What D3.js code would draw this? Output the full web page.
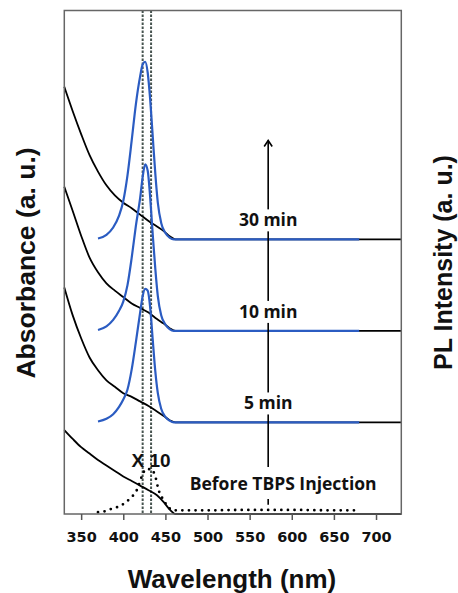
<!DOCTYPE html>
<html>
<head>
<meta charset="utf-8">
<script src="https://cdn.jsdelivr.net/npm/d3@7"></script>
<style>
  body { margin: 0; background: #fff; }
  svg { display: block; }
</style>
</head>
<body>
<div id="chart"></div>
<script>
// wavelength grids (nm)
var absWl = [330, 340, 350, 360, 370, 380, 390, 400, 410, 420, 430, 440, 448, 455, 462, 730];
var plWl = [370, 380, 388, 395, 400, 405, 410, 415, 420, 423, 426, 429, 432, 435, 438, 441, 445, 450, 455, 460, 680];

// absorbance curves (a.u., relative to own baseline)
var abs30 = [1.667, 1.40, 1.15, 0.92, 0.74, 0.59, 0.48, 0.40, 0.34, 0.27, 0.20, 0.14, 0.09, 0.035, 0, 0];
var abs10 = [1.575, 1.31, 1.04, 0.80, 0.64, 0.52, 0.44, 0.37, 0.30, 0.25, 0.20, 0.13, 0.08, 0.03, 0, 0];
var abs5 = [1.475, 1.17, 0.92, 0.71, 0.57, 0.46, 0.39, 0.32, 0.28, 0.23, 0.18, 0.12, 0.07, 0.025, 0, 0];
var absBefore = [0.917, 0.82, 0.73, 0.66, 0.59, 0.53, 0.47, 0.41, 0.36, 0.31, 0.26, 0.205, 0.13, 0.05, 0, 0];

// PL curves
var pl30 = [0.01, 0.05, 0.13, 0.26, 0.42, 0.70, 1.08, 1.48, 1.78, 1.91, 1.94, 1.82, 1.52, 1.12, 0.72, 0.40, 0.18, 0.07, 0.02, 0, 0];
var pl10 = [0.01, 0.05, 0.12, 0.22, 0.32, 0.50, 0.80, 1.15, 1.45, 1.68, 1.82, 1.75, 1.45, 1.05, 0.68, 0.38, 0.17, 0.07, 0.02, 0, 0];
var pl5 = [0.01, 0.04, 0.09, 0.17, 0.25, 0.36, 0.58, 0.88, 1.20, 1.38, 1.46, 1.44, 1.25, 0.90, 0.56, 0.32, 0.15, 0.06, 0.02, 0, 0];

// before injection PL (x10, dotted)
var plBeforeWl = [370, 378, 386, 394, 402, 408, 416, 422, 427, 433, 438, 442, 448, 454, 460, 500, 550, 600, 650, 676];
var plBefore = [0.0, 0.01, 0.036, 0.06, 0.10, 0.15, 0.24, 0.39, 0.47, 0.47, 0.39, 0.24, 0.13, 0.05, 0.02, 0.02, 0.025, 0.025, 0.02, 0.02];

// vertical offset of each trace
var offsets = [3, 2, 1, 0];
var labels = ["30 min", "10 min", "5 min"];
var peakLines = [423, 433];
var xTicks = [350, 400, 450, 500, 550, 600, 650, 700];

var W = 458, H = 593;
var margin = {top: 10.5, right: 56.7, bottom: 79, left: 64.3};

var svg = d3.select("#chart").append("svg")
    .attr("width", W)
    .attr("height", H);

var x = d3.scaleLinear()
    .domain([330, 730])
    .range([margin.left, W - margin.right]);

var y = d3.scaleLinear()
    .domain([0, 5.5])
    .range([H - margin.bottom, margin.top]);

var line = function(wl, off) {
  return d3.line()
    .x(function(d, i) { return x(wl[i]); })
    .y(function(d) { return y(d + off); })
    .curve(d3.curveMonotoneX);
};

// dashed peak markers
svg.selectAll(".peak")
    .data(peakLines)
  .enter().append("line")
    .attr("x1", function(d) { return x(d); })
    .attr("x2", function(d) { return x(d); })
    .attr("y1", y(5.5))
    .attr("y2", y(0))
    .attr("stroke", "#46534f")
    .attr("stroke-width", 2)
    .attr("stroke-dasharray", "2.5,1.5");

// absorbance (black)
var absSets = [abs30, abs10, abs5, absBefore];
absSets.forEach(function(a, k) {
  svg.append("path")
      .datum(a)
      .attr("fill", "none")
      .attr("stroke", "#000")
      .attr("stroke-width", 1.8)
      .attr("d", line(absWl, offsets[k]));
});

// PL (blue)
var plSets = [pl30, pl10, pl5];
plSets.forEach(function(p, k) {
  svg.append("path")
      .datum(p)
      .attr("fill", "none")
      .attr("stroke", "#2b5cc2")
      .attr("stroke-width", 2.2)
      .attr("d", line(plWl, offsets[k]));
});

// before injection PL, dotted
svg.append("path")
    .datum(plBefore)
    .attr("fill", "none")
    .attr("stroke", "#000")
    .attr("stroke-width", 2.8)
    .attr("stroke-linecap", "round")
    .attr("stroke-dasharray", "0,6.6")
    .attr("d", line(plBeforeWl, 0.02));

// arrow
var arrowX = x(572);
svg.append("line")
    .attr("x1", arrowX).attr("x2", arrowX)
    .attr("y1", y(0.1)).attr("y2", y(4.08))
    .attr("stroke", "#000")
    .attr("stroke-width", 1.6);
svg.append("path")
    .attr("d", "M" + (arrowX - 4) + "," + (y(4.08) + 6) + "L" + arrowX + "," + y(4.08) + "L" + (arrowX + 4) + "," + (y(4.08) + 6))
    .attr("fill", "none")
    .attr("stroke", "#000")
    .attr("stroke-width", 1.6);

// labels with white backing
var addLabel = function(txt, cx, by, size, family, pad) {
  var t = svg.append("text")
      .attr("x", cx)
      .attr("y", by)
      .attr("text-anchor", "middle")
      .attr("font-family", family)
      .attr("font-weight", "bold")
      .attr("font-size", size)
      .attr("fill", "#111")
      .text(txt);
  var b = t.node().getBBox();
  svg.insert("rect", function() { return t.node(); })
      .attr("x", b.x - 2)
      .attr("y", b.y + pad[0])
      .attr("width", b.width + 4)
      .attr("height", b.height - pad[0] + pad[1])
      .attr("fill", "#fff");
  return t;
};
labels.forEach(function(l, k) {
  addLabel(l, arrowX, y(offsets[k]) - 13, 17.5, "'Open Sans', sans-serif", [2, 0]);
});
addLabel("Before TBPS Injection", x(572) + 15, y(0) - 24, 17.5, "'Open Sans', sans-serif", [-4, 4]);

svg.append("text")
    .attr("x", x(433))
    .attr("y", y(0) - 47)
    .attr("text-anchor", "middle")
    .attr("font-family", "'Liberation Sans', Arial, sans-serif")
    .attr("font-weight", "bold")
    .attr("font-size", 19)
    .attr("fill", "#111")
    .text("X 10");

// frame
svg.append("rect")
    .attr("x", margin.left)
    .attr("y", margin.top)
    .attr("width", W - margin.left - margin.right)
    .attr("height", H - margin.top - margin.bottom)
    .attr("fill", "none")
    .attr("stroke", "#666")
    .attr("stroke-width", 1.5);

// x axis
var xAxis = svg.append("g")
    .attr("transform", "translate(0," + y(0) + ")")
    .call(d3.axisBottom(x).tickValues(xTicks).tickSize(6).tickPadding(12).tickSizeOuter(0));
xAxis.select(".domain").remove();
xAxis.selectAll("line").attr("stroke", "#555").attr("stroke-width", 1.5);
xAxis.selectAll("text")
    .attr("font-family", "'DejaVu Sans', sans-serif")
    .attr("font-weight", "bold")
    .attr("font-size", 14.5)
    .attr("fill", "#111");

// titles
svg.append("text")
    .attr("x", 232)
    .attr("y", 588)
    .attr("text-anchor", "middle")
    .attr("font-family", "'Liberation Sans', Arial, sans-serif")
    .attr("font-weight", "bold")
    .attr("font-size", 26)
    .attr("fill", "#111")
    .text("Wavelength (nm)");

svg.append("text")
    .attr("transform", "translate(34.5,263) rotate(-90)")
    .attr("text-anchor", "middle")
    .attr("font-family", "'Liberation Sans', Arial, sans-serif")
    .attr("font-weight", "bold")
    .attr("font-size", 26.5)
    .attr("fill", "#111")
    .text("Absorbance (a. u.)");

svg.append("text")
    .attr("transform", "translate(452,262.5) rotate(-90)")
    .attr("text-anchor", "middle")
    .attr("font-family", "'Liberation Sans', Arial, sans-serif")
    .attr("font-weight", "bold")
    .attr("font-size", 25)
    .attr("fill", "#111")
    .text("PL Intensity (a. u.)");
</script>
</body>
</html>
